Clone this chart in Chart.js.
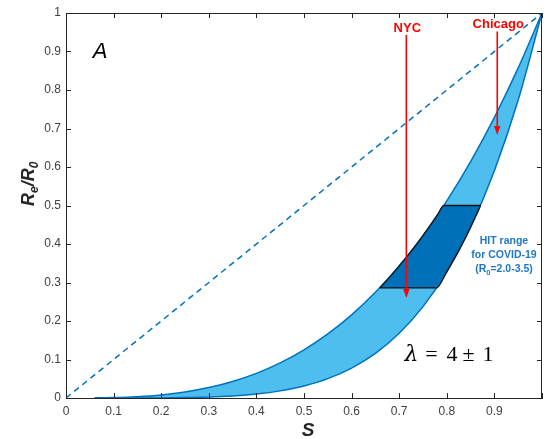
<!DOCTYPE html>
<html><head><meta charset="utf-8">
<script src="https://cdn.jsdelivr.net/npm/chart.js@4"></script>
<style>html,body{margin:0;padding:0;background:#fff;overflow:hidden}#wrap{width:548px;height:439px;position:relative}</style>
</head><body><div id="wrap"><canvas id="c" width="548" height="439"></canvas></div>
<script>
// Susceptible fraction S grid and Re/R0
const sGrid      = [0.06, 0.1, 0.15, 0.2, 0.25, 0.3, 0.35, 0.4, 0.45, 0.5, 0.55, 0.6, 0.65, 0.7, 0.75, 0.8, 0.85, 0.9, 0.95, 1];
const upperCurve = [0.0002, 0.001, 0.0034, 0.008, 0.0156, 0.027, 0.0429, 0.064, 0.0911, 0.125, 0.1664, 0.216, 0.2746, 0.343, 0.4219, 0.512, 0.6141, 0.729, 0.8574, 1];
const lowerCurve = [0, 0.00001, 0.0001, 0.0003, 0.001, 0.0024, 0.0053, 0.0102, 0.0185, 0.0313, 0.0503, 0.0778, 0.116, 0.1681, 0.2373, 0.3277, 0.4437, 0.5905, 0.7738, 1];
// HIT range region (R0 = 2.0 - 3.5)
const hitTopS = [0.659, 0.68, 0.70, 0.72, 0.74, 0.76, 0.78, 0.794, 0.871];
const hitTopR = [0.286, 0.314, 0.343, 0.373, 0.405, 0.439, 0.475, 0.5, 0.5];
const hitBotS = [0.659, 0.778, 0.80, 0.82, 0.84, 0.86, 0.871];
const hitBotR = [0.286, 0.286, 0.328, 0.371, 0.418, 0.470, 0.5];
// diagonal reference line
const diagS = [0, 1];
const diagR = [0, 1];
// ticks
const xTicks = [0, 0.1, 0.2, 0.3, 0.4, 0.5, 0.6, 0.7, 0.8, 0.9, 1];
const xTickLabels = ['0', '0.1', '0.2', '0.3', '0.4', '0.5', '0.6', '0.7', '0.8', '0.9', ''];
const yTicks = [0, 0.1, 0.2, 0.3, 0.4, 0.5, 0.6, 0.7, 0.8, 0.9, 1];
const yTickLabels = ['0', '0.1', '0.2', '0.3', '0.4', '0.5', '0.6', '0.7', '0.8', '0.9', '1'];
// city arrows
const cityNames = ['NYC', 'Chicago'];
const cityS = [0.715, 0.906];
const cityFrom = [0.943, 0.952];
const cityTo = [0.26, 0.683];

const pts = (xs, ys) => xs.map((x, i) => ({x: x, y: ys[i]}));

const deco = {
  id: 'deco',
  afterDatasetsDraw(chart) {
    const ctx = chart.ctx, xs = chart.scales.x, ys = chart.scales.y;
    ctx.save();
    ctx.strokeStyle = '#ff0000'; ctx.fillStyle = '#ff0000'; ctx.lineWidth = 1.6;
    cityS.forEach((s, i) => {
      const px = xs.getPixelForValue(s);
      const y0 = ys.getPixelForValue(cityFrom[i]);
      const y1 = ys.getPixelForValue(cityTo[i]);
      ctx.beginPath(); ctx.moveTo(px, y0); ctx.lineTo(px, y1 - 7); ctx.stroke();
      ctx.beginPath(); ctx.moveTo(px - 3.2, y1 - 9); ctx.lineTo(px + 3.2, y1 - 9); ctx.lineTo(px, y1); ctx.closePath(); ctx.fill();
      ctx.font = 'bold 13px "Liberation Sans", Arial, sans-serif';
      ctx.textAlign = 'center'; ctx.textBaseline = 'middle';
      ctx.fillText(cityNames[i], px + 1, y0 - (i === 0 ? 7 : 7));
    });
    ctx.restore();
  },
  afterDraw(chart) {
    const ctx = chart.ctx, a = chart.chartArea, xs = chart.scales.x, ys = chart.scales.y;
    ctx.save();
    ctx.strokeStyle = '#262626'; ctx.lineWidth = 1;
    ctx.beginPath();
    ctx.moveTo(a.left, a.top + 0.5); ctx.lineTo(a.right, a.top + 0.5);
    ctx.moveTo(a.right - 0.5, a.top); ctx.lineTo(a.right - 0.5, a.bottom);
    ctx.stroke();
    ctx.beginPath();
    xTicks.forEach(v => {
      const px = Math.round(xs.getPixelForValue(v)) + 0.5;
      ctx.moveTo(px, a.bottom); ctx.lineTo(px, a.bottom - 5);
      ctx.moveTo(px, a.top); ctx.lineTo(px, a.top + 5);
    });
    yTicks.forEach(v => {
      const py = Math.round(ys.getPixelForValue(v)) + 0.5;
      ctx.moveTo(a.left, py); ctx.lineTo(a.left + 5, py);
      ctx.moveTo(a.right, py); ctx.lineTo(a.right - 5, py);
    });
    ctx.stroke();

    // panel letter
    ctx.fillStyle = '#000';
    ctx.font = 'italic 22px "Liberation Sans", Arial, sans-serif';
    ctx.textAlign = 'center'; ctx.textBaseline = 'alphabetic';
    ctx.fillText('A', 100, 58);

    // x title
    ctx.fillStyle = '#262626';
    ctx.font = 'italic bold 19px "Liberation Sans", Arial, sans-serif';
    ctx.fillText('S', 308, 436);

    // y title rotated
    ctx.save();
    ctx.translate(34, 206);
    ctx.rotate(-Math.PI / 2);
    ctx.textAlign = 'left';
    let x = 0;
    const big = 'italic bold 18px "Liberation Sans", Arial, sans-serif';
    const small = 'italic bold 12px "Liberation Sans", Arial, sans-serif';
    ctx.font = big; ctx.fillText('R', x, 0); x += ctx.measureText('R').width;
    ctx.font = small; ctx.fillText('e', x, 4); x += ctx.measureText('e').width;
    ctx.font = big; ctx.fillText('/', x, 0); x += ctx.measureText('/').width;
    ctx.fillText('R', x, 0); x += ctx.measureText('R').width;
    ctx.font = small; ctx.fillText('0', x, 4);
    ctx.restore();

    // HIT text
    ctx.fillStyle = '#1f78c6';
    ctx.textAlign = 'center';
    ctx.font = 'bold 10.5px "Liberation Sans", Arial, sans-serif';
    ctx.fillText('HIT range', 504, 244);
    ctx.fillText('for COVID-19', 504, 258);
    const p1 = '(R', p2 = '0', p3 = '=2.0-3.5)';
    const w1 = ctx.measureText(p1).width, w3 = ctx.measureText(p3).width;
    ctx.font = 'bold 7.5px "Liberation Sans", Arial, sans-serif';
    const w2 = ctx.measureText(p2).width;
    let sx = 504 - (w1 + w2 + w3) / 2;
    ctx.textAlign = 'left';
    ctx.font = 'bold 10.5px "Liberation Sans", Arial, sans-serif';
    ctx.fillText(p1, sx, 272); sx += w1;
    ctx.font = 'bold 7.5px "Liberation Sans", Arial, sans-serif';
    ctx.fillText(p2, sx, 275); sx += w2;
    ctx.font = 'bold 10.5px "Liberation Sans", Arial, sans-serif';
    ctx.fillText(p3, sx, 272);

    // lambda label
    ctx.fillStyle = '#000';
    ctx.textAlign = 'center';
    ctx.font = 'italic 22px "DejaVu Serif", "Liberation Serif", serif';
    ctx.fillText('λ', 411.5, 361);
    ctx.font = '22px "Liberation Serif", "DejaVu Serif", serif';
    ctx.fillText('=', 431.5, 361);
    ctx.fillText('4', 452, 361);
    ctx.fillText('±', 468.5, 361);
    ctx.fillText('1', 488, 361);
    ctx.restore();
  }
};

const tickFont = {family: '"Liberation Sans", Arial, sans-serif', size: 12};

new Chart(document.getElementById('c'), {
  type: 'scatter',
  data: {
    datasets: [
      { data: pts(diagS, diagR), showLine: true, borderColor: '#0072BD', borderWidth: 1.5, borderDash: [6, 4.5], pointRadius: 0, fill: false, order: 5 },
      { data: pts(sGrid, upperCurve), showLine: true, borderColor: '#0072BD', borderWidth: 1.5, pointRadius: 0, cubicInterpolationMode: 'monotone', fill: {target: 2}, backgroundColor: '#4DBEEE', order: 4 },
      { data: pts(sGrid, lowerCurve), showLine: true, borderColor: '#0072BD', borderWidth: 1.5, pointRadius: 0, cubicInterpolationMode: 'monotone', fill: false, order: 3 },
      { data: pts(hitTopS, hitTopR), showLine: true, borderColor: '#111', borderWidth: 1.3, pointRadius: 0, cubicInterpolationMode: 'monotone', fill: {target: 4}, backgroundColor: '#0070B8', order: 2 },
      { data: pts(hitBotS, hitBotR), showLine: true, borderColor: '#111', borderWidth: 1.3, pointRadius: 0, cubicInterpolationMode: 'monotone', fill: false, order: 1 }
    ]
  },
  options: {
    responsive: false, animation: false, devicePixelRatio: 1,
    layout: {padding: {top: 13, right: 1, left: 0, bottom: 0}},
    plugins: {legend: {display: false}, tooltip: {enabled: false}, title: {display: false}},
    scales: {
      x: {
        type: 'linear', min: 0, max: 1,
        afterBuildTicks: s => { s.ticks = xTicks.map(v => ({value: v})); },
        afterFit: s => { s.height = 41; },
        ticks: {callback: (v, i) => xTickLabels[i], font: tickFont, color: '#404040', padding: 6, maxRotation: 0, autoSkip: false},
        grid: {drawOnChartArea: false, drawTicks: false},
        border: {color: '#262626', width: 1}
      },
      y: {
        type: 'linear', min: 0, max: 1,
        afterBuildTicks: s => { s.ticks = yTicks.map(v => ({value: v})); },
        afterFit: s => { s.width = 66; },
        ticks: {callback: (v, i) => yTickLabels[i], font: tickFont, color: '#404040', padding: 5, autoSkip: false},
        grid: {drawOnChartArea: false, drawTicks: false},
        border: {color: '#262626', width: 1}
      }
    }
  },
  plugins: [deco]
});
</script></body></html>
